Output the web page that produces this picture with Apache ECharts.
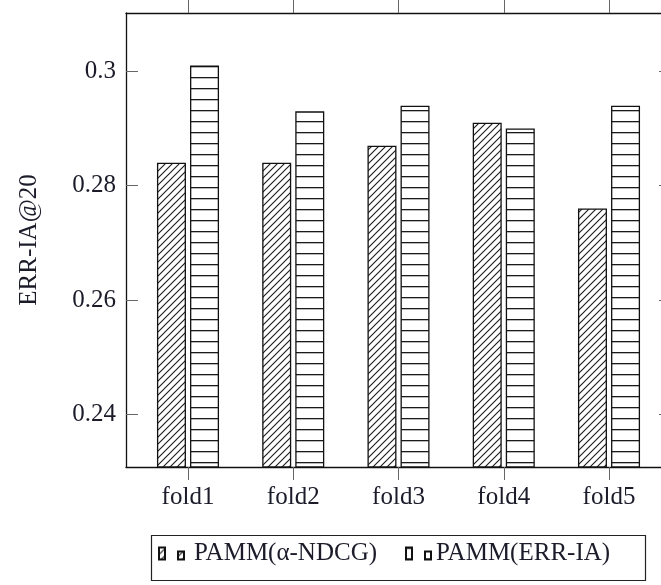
<!DOCTYPE html>
<html>
<head>
<meta charset="utf-8">
<script src="https://cdn.jsdelivr.net/npm/echarts@6/dist/echarts.min.js"></script>
<style>
html,body{margin:0;padding:0;background:#fff;overflow:hidden;width:661px;height:585px;}
#chart{width:690px;height:585px;}
</style>
</head>
<body>
<div id="chart"></div>
<script>
// ---- data ----
const categories = ['fold1', 'fold2', 'fold3', 'fold4', 'fold5'];
const pammNdcg = [0.284, 0.284, 0.287, 0.291, 0.276];
const pammErr = [0.301, 0.293, 0.294, 0.290, 0.294];
const yTickValues = [0.24, 0.26, 0.28, 0.30];
const yTickLabels = ['0.24', '0.26', '0.28', '0.3'];
const seriesNames = ['PAMM(\u03b1-NDCG)', 'PAMM(ERR-IA)'];
const yTitle = 'ERR-IA@20';

// ---- styles ----
const FONT = 'Liberation Serif';
const TXT = '#1b1b2a';

function hatchPattern() {
  const s = 7;
  const c = document.createElement('canvas');
  c.width = s; c.height = s;
  const g = c.getContext('2d');
  g.fillStyle = '#fff'; g.fillRect(0, 0, s, s);
  g.strokeStyle = '#1e1e1e'; g.lineWidth = 1.15;
  g.beginPath();
  g.moveTo(-s, s); g.lineTo(s, -s);
  g.moveTo(0, s); g.lineTo(s, 0);
  g.moveTo(0, 2 * s); g.lineTo(2 * s, 0);
  g.stroke();
  return c;
}
function hlinePattern() {
  const c = document.createElement('canvas');
  c.width = 4; c.height = 11;
  const g = c.getContext('2d');
  g.fillStyle = '#fff'; g.fillRect(0, 0, 4, 11);
  g.fillStyle = '#1a1a1a'; g.fillRect(0, 0, 4, 1.3);
  return c;
}

const xMin = 0.411, xMax = 5.589;
const catTicks = categories.map((c, i) => i + 1);

const chart = echarts.init(document.getElementById('chart'), null, {renderer: 'canvas'});
const axisLineStyle = {color: '#111', width: 1.3};
const tickStyle = {color: '#666', width: 1};
const iconPath = 'path://M0,0H6V12H0Z M19,4H25V12H19Z';

chart.setOption({
  animation: false,
  backgroundColor: '#fff',
  textStyle: {fontFamily: FONT},
  grid: {left: 126, top: 13, width: 545, height: 454, containLabel: false, outerBoundsMode: 'none'},
  xAxis: [{
    type: 'value', position: 'bottom', min: xMin, max: xMax,
    axisLine: {show: true, onZero: false, lineStyle: axisLineStyle},
    axisTick: {show: true, inside: false, length: 13, lineStyle: tickStyle, customValues: catTicks},
    axisLabel: {show: true, customValues: catTicks, margin: 18, fontSize: 25, lineHeight: 25,
      color: TXT, fontFamily: FONT, formatter: v => categories[Math.round(v) - 1] || ''},
    splitLine: {show: false}
  }, {
    type: 'value', position: 'top', min: xMin, max: xMax,
    axisLine: {show: true, onZero: false, lineStyle: axisLineStyle},
    axisTick: {show: true, inside: false, length: 13, lineStyle: tickStyle, customValues: catTicks},
    axisLabel: {show: false},
    splitLine: {show: false}
  }],
  yAxis: [{
    type: 'value', position: 'left', min: 0.2308, max: 0.3102,
    name: yTitle, nameLocation: 'middle', nameRotate: 90, nameGap: 84,
    nameTextStyle: {fontSize: 25, color: TXT, fontFamily: FONT},
    axisLine: {show: true, onZero: false, lineStyle: axisLineStyle},
    axisTick: {show: true, inside: true, length: 12, lineStyle: tickStyle, customValues: yTickValues},
    axisLabel: {show: true, customValues: yTickValues, margin: 10, fontSize: 25, color: TXT, fontFamily: FONT,
      formatter: v => { const k = yTickValues.findIndex(t => Math.abs(t - v) < 1e-6); return k >= 0 ? yTickLabels[k] : ''; }},
    splitLine: {show: false}
  }, {
    type: 'value', position: 'right', min: 0.2308, max: 0.3102,
    axisLine: {show: true, onZero: false, lineStyle: axisLineStyle},
    axisTick: {show: true, inside: true, length: 12, lineStyle: tickStyle, customValues: yTickValues},
    axisLabel: {show: false},
    splitLine: {show: false}
  }],
  legend: [{
    data: [seriesNames[0]], left: 158, top: 541, orient: 'horizontal',
    icon: iconPath, itemWidth: 25, itemHeight: 12, padding: 0,
    textStyle: {fontSize: 25, color: TXT, fontFamily: FONT, padding: [0, 0, 0, 5]},
    selectedMode: false
  }, {
    data: [seriesNames[1]], left: 405, top: 541, orient: 'horizontal',
    icon: iconPath, itemWidth: 25, itemHeight: 12, padding: 0,
    textStyle: {fontSize: 25, color: TXT, fontFamily: FONT},
    selectedMode: false
  }],
  graphic: [{
    type: 'rect', shape: {x: 151.5, y: 535.5, width: 494, height: 45},
    style: {fill: 'none', stroke: '#222', lineWidth: 1.2}, silent: true
  }],
  series: [{
    name: seriesNames[0], type: 'bar', xAxisIndex: 0, yAxisIndex: 0,
    barWidth: 29, barGap: '14%', clip: true,
    itemStyle: {color: {image: hatchPattern(), repeat: 'repeat'}, borderColor: '#111', borderWidth: 1.3},
    data: categories.map((c, i) => [i + 1, pammNdcg[i]])
  }, {
    name: seriesNames[1], type: 'bar', xAxisIndex: 0, yAxisIndex: 0,
    barWidth: 29, barGap: '14%', clip: true,
    itemStyle: {color: {image: hlinePattern(), repeat: 'repeat'}, borderColor: '#111', borderWidth: 1.3},
    data: categories.map((c, i) => [i + 1, pammErr[i]])
  }]
});
</script>
</body>
</html>
